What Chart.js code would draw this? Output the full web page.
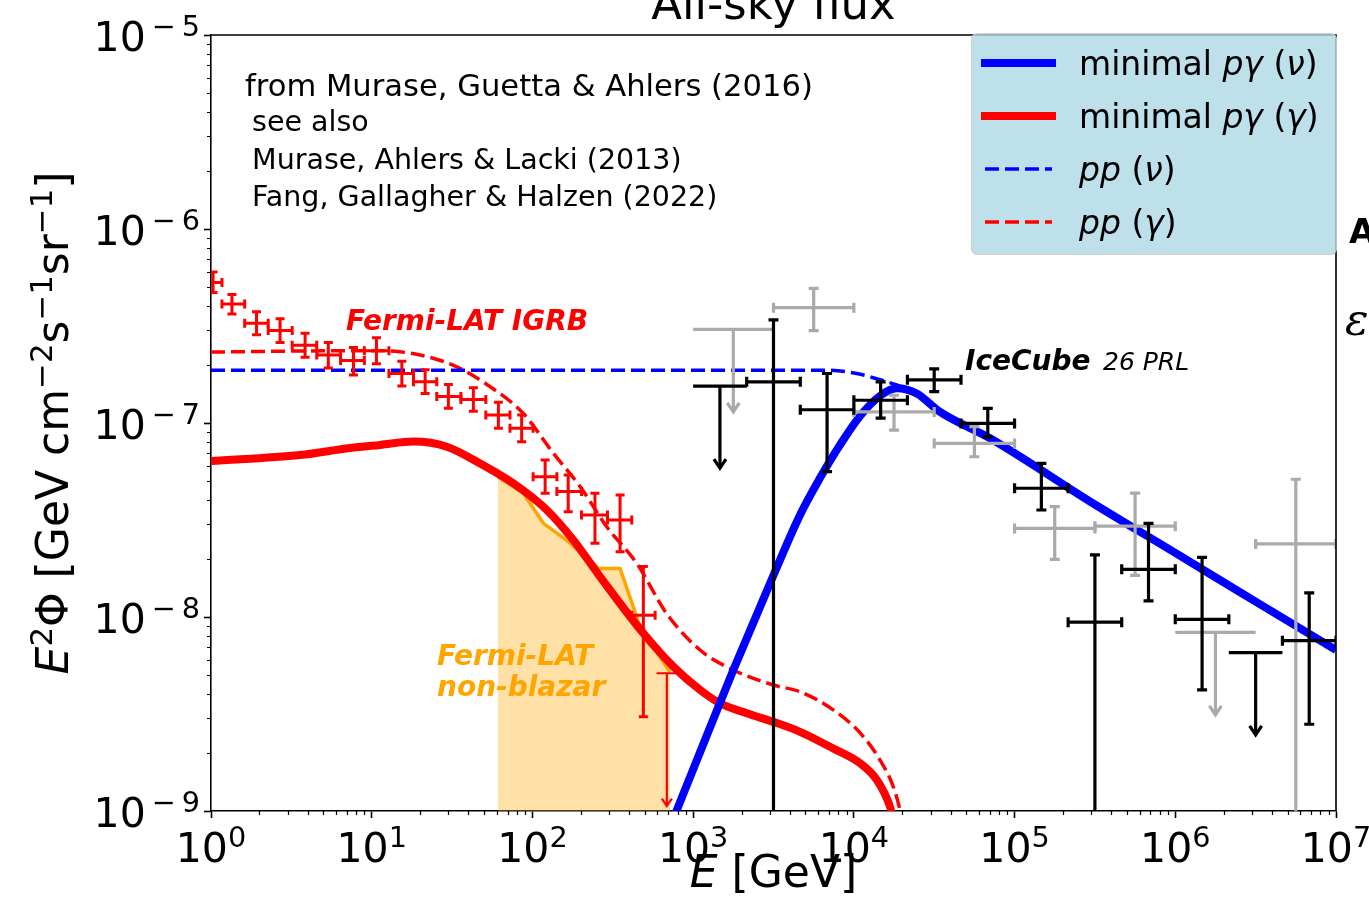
<!DOCTYPE html>
<html>
<head>
<meta charset="utf-8">
<title>All-sky flux</title>
<script src="https://cdn.jsdelivr.net/npm/chart.js@4.4.1/dist/chart.umd.min.js"></script>
<style>
  html, body { margin: 0; padding: 0; background: #fff; }
  #wrap { position: relative; width: 1369px; height: 919px; }
</style>
</head>
<body>
<div id="wrap"><canvas id="c"></canvas></div>
<script>
/* ---------------- datos (E en GeV, E^2 Phi en GeV cm^-2 s^-1 sr^-1) ---------------- */

// ejes: ticks mayores y sus exponentes (se dibujan como 10^n)
const xMajor = [1, 1e1, 1e2, 1e3, 1e4, 1e5, 1e6, 1e7];
const xTickExp = ["0", "1", "2", "3", "4", "5", "6", "7"];
const yMajor = [1e-9, 1e-8, 1e-7, 1e-6, 1e-5];
const yTickExp = ["−9", "−8", "−7", "−6", "−5"];

// minimal p-gamma (nu)
const pgNuE = [631, 791, 1104, 1778, 2871, 4624, 6152, 8204, 10965, 14555, 18493, 24604, 34356, 70307, 316228, 1e6, 3.162e6, 1e7];
const pgNuF = [6.31e-10, 1.01e-9, 2.01e-9, 5.33e-9, 1.36e-8, 3.36e-8, 5.20e-8, 7.71e-8, 1.09e-7, 1.38e-7, 1.51e-7, 1.42e-7, 1.14e-7, 8.34e-8, 3.80e-8, 2.14e-8, 1.20e-8, 6.76e-9];
// minimal p-gamma (gamma)
const pgGaE = [1, 3.58, 7.33, 11.3, 18.2, 29.3, 47.2, 76.0, 123, 180, 264, 490, 753, 1104, 1469, 2153, 3155, 4624, 7447, 10965, 13868, 16788, 18197];
const pgGaF = [6.37e-8, 6.84e-8, 7.43e-8, 7.71e-8, 8.02e-8, 7.55e-8, 6.19e-8, 4.89e-8, 3.56e-8, 2.49e-8, 1.61e-8, 8.24e-9, 5.55e-9, 4.21e-9, 3.59e-9, 3.19e-9, 2.88e-9, 2.56e-9, 2.10e-9, 1.76e-9, 1.45e-9, 1.05e-9, 7.9e-10];
// pp (nu)
const ppNuE = [1, 10, 100, 1000, 3000, 6700, 10423, 14555, 18493, 24604, 34356, 70307, 316228, 1e6, 3.162e6, 1e7];
const ppNuF = [1.87e-7, 1.87e-7, 1.87e-7, 1.87e-7, 1.87e-7, 1.87e-7, 1.80e-7, 1.67e-7, 1.57e-7, 1.42e-7, 1.14e-7, 8.34e-8, 3.80e-8, 2.14e-8, 1.20e-8, 6.76e-9];
// pp (gamma)
const ppGaE = [1, 3.58, 11.3, 20.0, 33.8, 54.5, 87.7, 135, 198, 290, 446, 685, 1104, 1778, 3155, 4624, 7447, 10965, 14555, 17620, 19364, 20417];
const ppGaF = [2.32e-7, 2.35e-7, 2.36e-7, 2.24e-7, 1.95e-7, 1.54e-7, 1.12e-7, 6.98e-8, 4.70e-8, 2.92e-8, 1.89e-8, 1.04e-8, 6.76e-9, 5.33e-9, 4.46e-9, 4.12e-9, 3.32e-9, 2.52e-9, 1.83e-9, 1.33e-9, 1.01e-9, 7.9e-10];
// Fermi-LAT non-blazar (banda naranja)
const nbE = [61.1, 87.7, 117, 163, 257, 351, 468, 718];
const nbF = [5.27e-8, 4.35e-8, 3.04e-8, 2.49e-8, 1.78e-8, 1.78e-8, 8.9e-9, 5.2e-9];

// Fermi-LAT IGRB
const igrbE   = [1.03, 1.35, 1.92, 2.69, 3.85, 5.37, 7.7, 10.7, 15.4, 21.5, 30, 42.9, 61.4, 85.7, 120, 167, 245, 351, 490];
const igrbElo = [0.87, 1.17, 1.62, 2.27, 3.2, 4.55, 6.4, 9.0, 12.8, 18.2, 25.4, 35.9, 51.3, 72.5, 101, 142, 202, 293, 415];
const igrbEhi = [1.17, 1.62, 2.27, 3.2, 4.55, 6.4, 9.0, 12.8, 18.2, 25.4, 35.9, 51.3, 72.5, 101, 142, 202, 293, 415, 580];
const igrbF   = [5.3e-7, 4.1e-7, 3.27e-7, 3.0e-7, 2.52e-7, 2.24e-7, 2.1e-7, 2.36e-7, 1.80e-7, 1.63e-7, 1.37e-7, 1.32e-7, 1.10e-7, 9.4e-8, 5.28e-8, 4.43e-8, 3.36e-8, 3.16e-8, 1.02e-8];
const igrbFlo = [4.7e-7, 3.65e-7, 2.85e-7, 2.6e-7, 2.18e-7, 1.92e-7, 1.77e-7, 2.02e-7, 1.55e-7, 1.42e-7, 1.19e-7, 1.15e-7, 9.4e-8, 8.0e-8, 4.35e-8, 3.49e-8, 2.40e-8, 2.17e-8, 3.06e-9];
const igrbFhi = [6.0e-7, 4.6e-7, 3.75e-7, 3.45e-7, 2.9e-7, 2.6e-7, 2.45e-7, 2.75e-7, 2.08e-7, 1.88e-7, 1.58e-7, 1.52e-7, 1.28e-7, 1.1e-7, 6.44e-8, 5.39e-8, 4.35e-8, 4.25e-8, 1.82e-8];
const igrbUlE = [686], igrbUlElo = [592], igrbUlEhi = [789], igrbUlF = [5.13e-9], igrbUlTip = [1.06e-9];

// IceCube (negro)
const icE   = [3162, 6813, 14680, 31620, 68130, 146800, 316200, 681300, 1468000, 6813000];
const icElo = [2154, 4642, 10000, 21540, 46420, 100000, 215400, 464200, 1000000, 4642000];
const icEhi = [4642, 10000, 21540, 46420, 100000, 215400, 464200, 1000000, 2154000, 10000000];
const icF   = [1.63e-7, 1.17e-7, 1.31e-7, 1.67e-7, 9.95e-8, 4.61e-8, 9.4e-9, 1.76e-8, 9.73e-9, 7.55e-9];
const icFlo = [1e-10, 5.61e-8, 1.06e-7, 1.45e-7, 8.49e-8, 3.56e-8, 1e-10, 1.21e-8, 4.21e-9, 2.80e-9];
const icFhi = [3.40e-7, 1.80e-7, 1.63e-7, 1.90e-7, 1.19e-7, 6.19e-8, 2.09e-8, 3.04e-8, 2.03e-8, 1.33e-8];
const icUlE = [1468, 3162000], icUlElo = [1000, 2154000], icUlEhi = [2154, 4642000];
const icUlF = [1.55e-7, 6.55e-9], icUlTip = [5.86e-8, 2.47e-9];

// IceCube (gris)
const hsE   = [5623, 17780, 56230, 177800, 562300, 5623000];
const hsElo = [3162, 10000, 31620, 100000, 316200, 3162000];
const hsEhi = [10000, 31620, 100000, 316200, 1000000, 10000000];
const hsF   = [3.93e-7, 1.14e-7, 7.85e-8, 2.86e-8, 2.94e-8, 2.38e-8];
const hsFlo = [2.99e-7, 9.2e-8, 6.7e-8, 1.98e-8, 1.64e-8, 1e-10];
const hsFhi = [4.94e-7, 1.39e-7, 9.57e-8, 3.71e-8, 4.35e-8, 5.13e-8];
const hsUlE = [1778, 1778000], hsUlElo = [1000, 1000000], hsUlEhi = [3162, 3162000];
const hsUlF = [3.04e-7, 8.34e-9], hsUlTip = [1.14e-7, 3.13e-9];

/* ---------------- helpers ---------------- */
const FAM = "'DejaVu Sans'";
const BLUE = "#0000ff", RED = "#ff0000", ORANGE = "#ffa500", GRAY = "#aaaaaa";
const pts = (xs, ys) => xs.map((x, i) => ({ x, y: ys[i] }));
const isPow10 = (v) => Math.abs(Math.log10(v) - Math.round(Math.log10(v))) < 1e-6;

function minors(lo, hi) {
  const out = [];
  for (let d = lo; d < hi; d++) for (let k = 2; k <= 9; k++) out.push(k * Math.pow(10, d));
  return out;
}
const xMinor = minors(0, 7);
const yMinor = minors(-9, -5);

function fnt(size, it, b, fam) { return (it ? "italic " : "") + (b ? "bold " : "") + size + "px " + (fam || FAM); }

// texto con partes en cursiva / superíndice (dx = hueco antes de la parte)
function rich(ctx, parts, x, y, size, align) {
  const ws = parts.map((p) => { ctx.font = fnt(p.sup ? size * 0.7 : size, p.it, p.b, p.fam); return ctx.measureText(p.t).width + (p.dx || 0); });
  const w = ws.reduce((a, b) => a + b, 0);
  let cx = align === "center" ? x - w / 2 : align === "right" ? x - w : x;
  parts.forEach((p, i) => {
    ctx.font = fnt(p.sup ? size * 0.7 : size, p.it, p.b, p.fam);
    ctx.fillText(p.t, cx + (p.dx || 0), p.sup ? y - size * 0.37 : y);
    cx += ws[i];
  });
}

/* ---------------- barras de error, límites, textos, leyenda ---------------- */
function errBars(ctx, xs, ys, E, Elo, Ehi, F, Flo, Fhi, color, lw, cap) {
  ctx.strokeStyle = color; ctx.lineWidth = lw; ctx.lineCap = "butt";
  E.forEach((e, i) => {
    const px = xs.getPixelForValue(e), py = ys.getPixelForValue(F[i]);
    const x0 = xs.getPixelForValue(Elo[i]), x1 = xs.getPixelForValue(Ehi[i]);
    const y0 = ys.getPixelForValue(Flo[i]), y1 = ys.getPixelForValue(Fhi[i]);
    ctx.beginPath();
    ctx.moveTo(x0, py); ctx.lineTo(x1, py);
    ctx.moveTo(x0, py - cap); ctx.lineTo(x0, py + cap);
    ctx.moveTo(x1, py - cap); ctx.lineTo(x1, py + cap);
    ctx.moveTo(px, y0); ctx.lineTo(px, y1);
    ctx.moveTo(px - cap, y0); ctx.lineTo(px + cap, y0);
    ctx.moveTo(px - cap, y1); ctx.lineTo(px + cap, y1);
    ctx.stroke();
  });
}

function upperLimits(ctx, xs, ys, E, Elo, Ehi, F, tip, color, lw, head) {
  ctx.strokeStyle = color; ctx.lineWidth = lw; ctx.lineCap = "butt";
  E.forEach((e, i) => {
    const px = xs.getPixelForValue(e), py = ys.getPixelForValue(F[i]);
    const ty = ys.getPixelForValue(tip[i]);
    ctx.beginPath();
    ctx.moveTo(xs.getPixelForValue(Elo[i]), py); ctx.lineTo(xs.getPixelForValue(Ehi[i]), py);
    ctx.moveTo(px, py); ctx.lineTo(px, ty);
    ctx.stroke();
    ctx.beginPath();
    ctx.moveTo(px - head, ty - head * 1.5); ctx.lineTo(px, ty); ctx.lineTo(px + head, ty - head * 1.5);
    ctx.stroke();
  });
}

const overlay = {
  id: "overlay",
  afterDatasetsDraw(chart) {
    const { ctx, chartArea: a, scales: { x, y } } = chart;
    ctx.save();
    ctx.beginPath(); ctx.rect(a.left, a.top, a.right - a.left, a.bottom - a.top); ctx.clip();
    errBars(ctx, x, y, hsE, hsElo, hsEhi, hsF, hsFlo, hsFhi, GRAY, 3.2, 5);
    upperLimits(ctx, x, y, hsUlE, hsUlElo, hsUlEhi, hsUlF, hsUlTip, GRAY, 3.2, 6);
    errBars(ctx, x, y, icE, icElo, icEhi, icF, icFlo, icFhi, "#000", 3.2, 5);
    upperLimits(ctx, x, y, icUlE, icUlElo, icUlEhi, icUlF, icUlTip, "#000", 3.2, 6);
    errBars(ctx, x, y, igrbE, igrbElo, igrbEhi, igrbF, igrbFlo, igrbFhi, RED, 3, 4.5);
    upperLimits(ctx, x, y, igrbUlE, igrbUlElo, igrbUlEhi, igrbUlF, igrbUlTip, RED, 2.2, 5);
    ctx.restore();
  },
  afterDraw(chart) {
    const { ctx, chartArea: a, scales: { x, y } } = chart;
    ctx.save();
    // ticks menores (más cortos que los mayores)
    ctx.strokeStyle = "#000"; ctx.lineWidth = 1.2;
    ctx.beginPath();
    xMinor.forEach((v) => { const p = Math.round(x.getPixelForValue(v)) + 0.5; ctx.moveTo(p, a.bottom); ctx.lineTo(p, a.bottom + 4); });
    yMinor.forEach((v) => { const p = Math.round(y.getPixelForValue(v)) + 0.5; ctx.moveTo(a.left, p); ctx.lineTo(a.left - 4, p); });
    ctx.stroke();
    // marco superior y derecho
    ctx.lineWidth = 1.6;
    ctx.beginPath();
    ctx.moveTo(a.left, a.top); ctx.lineTo(a.right, a.top); ctx.lineTo(a.right, a.bottom);
    ctx.stroke();

    ctx.fillStyle = "#000"; ctx.textBaseline = "alphabetic"; ctx.textAlign = "left";
    // etiquetas de ticks: 10^n en la posición de la escala
    xMajor.forEach((v, i) => rich(ctx, [{ t: "10" }, { t: xTickExp[i], sup: 1 }], x.getPixelForValue(v), 862, 41, "center"));
    yMajor.forEach((v, i) => {
      const ex = yTickExp[i];
      rich(ctx, [{ t: "10" }, { t: ex.slice(0, 1), sup: 1, dx: 6 }, { t: ex.slice(1), sup: 1, dx: 6 }],
        a.left - 11, y.getPixelForValue(v) + 16, 41, "right");
    });

    // título (cortado arriba)
    ctx.font = fnt(45); ctx.textAlign = "center";
    ctx.fillText("All-sky flux", (a.left + a.right) / 2, 19);
    ctx.textAlign = "left";
    // títulos de ejes
    rich(ctx, [{ t: "E", it: 1 }, { t: " [GeV]" }], (a.left + a.right) / 2, 887, 44, "center");
    ctx.save();
    ctx.translate(68, (a.top + a.bottom) / 2); ctx.rotate(-Math.PI / 2);
    rich(ctx, [{ t: "E", it: 1 }, { t: "2", sup: 1 }, { t: "Φ" }, { t: " [GeV cm" }, { t: "−2", sup: 1 },
      { t: "s" }, { t: "−1", sup: 1 }, { t: "sr" }, { t: "−1", sup: 1 }, { t: "]" }], 0, 0, 44, "center");
    ctx.restore();

    // referencias
    ctx.font = fnt(30.6);
    ctx.fillText("from Murase, Guetta & Ahlers (2016)", 245, 96);
    ctx.font = fnt(28.5);
    [" see also", " Murase, Ahlers & Lacki (2013)", " Fang, Gallagher & Halzen (2022)"]
      .forEach((s, i) => ctx.fillText(s, 243, 131 + i * 37.5));

    // etiquetas de datos
    ctx.fillStyle = RED; ctx.font = fnt(28, 1, 1);
    ctx.fillText("Fermi-LAT IGRB", 346, 330);
    ctx.fillStyle = "#000";
    ctx.fillText("IceCube", 965, 370);
    ctx.font = fnt(25, 1); ctx.fillText("26 PRL", 1103, 370);
    ctx.fillStyle = ORANGE; ctx.font = fnt(28, 1, 1);
    ctx.fillText("Fermi-LAT", 437, 665);
    ctx.fillText("non-blazar", 437, 696);

    // texto cortado en el borde derecho
    ctx.fillStyle = "#000";
    ctx.font = fnt(34, 0, 1); ctx.fillText("A", 1349, 243);
    ctx.font = fnt(44, 1, 0, "'DejaVu Serif'"); ctx.fillText("ε", 1345, 335);

    // leyenda
    ctx.beginPath(); ctx.roundRect(971.5, 33.5, 365, 221, 6);
    ctx.fillStyle = "rgba(173,216,230,0.8)"; ctx.fill();
    ctx.strokeStyle = "rgba(204,204,204,0.9)"; ctx.lineWidth = 1.2; ctx.stroke();
    const rows = [
      { ds: 0, parts: [{ t: "minimal " }, { t: "pγ", it: 1 }, { t: " (" }, { t: "ν", it: 1 }, { t: ")" }] },
      { ds: 1, parts: [{ t: "minimal " }, { t: "pγ", it: 1 }, { t: " (" }, { t: "γ", it: 1 }, { t: ")" }] },
      { ds: 2, parts: [{ t: "pp", it: 1 }, { t: " (" }, { t: "ν", it: 1 }, { t: ")" }] },
      { ds: 3, parts: [{ t: "pp", it: 1 }, { t: " (" }, { t: "γ", it: 1 }, { t: ")" }] },
    ];
    rows.forEach((r, i) => {
      const d = chart.data.datasets[r.ds], ry = 63 + i * 53;
      ctx.strokeStyle = d.borderColor; ctx.lineWidth = d.borderWidth;
      ctx.setLineDash(d.borderDash || []); ctx.lineCap = d.borderDash ? "butt" : "square";
      ctx.beginPath(); ctx.moveTo(985, ry); ctx.lineTo(1052, ry); ctx.stroke();
      ctx.setLineDash([]);
      ctx.fillStyle = "#000";
      rich(ctx, r.parts, 1079, ry + 12, 33, "left");
    });
    ctx.restore();
  },
};

/* ---------------- gráfica ---------------- */
const line = (label, xs, ys, color, width, dash, order) => ({
  label, data: pts(xs, ys), showLine: true, borderColor: color, borderWidth: width,
  borderDash: dash, pointRadius: 0, cubicInterpolationMode: "monotone", fill: false, clip: 0, order,
});
const tickGrid = {
  display: true, drawOnChartArea: false, drawTicks: true, tickLength: 7, tickWidth: 1.6,
  tickColor: (c) => (c.tick && isPow10(c.tick.value) ? "#000" : "rgba(0,0,0,0)"),
};

new Chart(document.getElementById("c"), {
  type: "scatter",
  data: {
    datasets: [
      line("minimal pγ (ν)", pgNuE, pgNuF, BLUE, 8, undefined, 2),
      line("minimal pγ (γ)", pgGaE, pgGaF, RED, 8, undefined, 3),
      line("pp (ν)", ppNuE, ppNuF, BLUE, 3.5, [14, 6], 4),
      line("pp (γ)", ppGaE, ppGaF, RED, 3.5, [14, 6], 5),
      { label: "Fermi-LAT non-blazar", data: pts(nbE, nbF), showLine: true, borderColor: ORANGE, borderWidth: 3.5,
        backgroundColor: "rgba(255,165,0,0.35)", fill: "start", pointRadius: 0, tension: 0, clip: 0, order: 6 },
      { label: "Fermi-LAT IGRB", data: pts(igrbE, igrbF), pointRadius: 0, showLine: false, order: 1 },
      { label: "IceCube", data: pts(icE, icF), pointRadius: 0, showLine: false, order: 1 },
      { label: "IceCube (gris)", data: pts(hsE, hsF), pointRadius: 0, showLine: false, order: 1 },
    ],
  },
  options: {
    responsive: true, maintainAspectRatio: false, animation: false,
    layout: { padding: { top: 35, right: 33, left: 0, bottom: 0 } },
    plugins: { legend: { display: false }, tooltip: { enabled: false }, title: { display: false } },
    scales: {
      x: {
        type: "logarithmic", min: 1, max: 1e7, position: "bottom",
        afterBuildTicks: (s) => { s.ticks = xMajor.concat(xMinor).sort((a, b) => a - b).map((value) => ({ value })); },
        afterFit: (s) => { s.height = 108; s.paddingLeft = 0; s.paddingRight = 0; },
        ticks: { display: false, autoSkip: false },
        grid: tickGrid,
        border: { display: true, color: "#000", width: 1.6 },
      },
      y: {
        type: "logarithmic", min: 1e-9, max: 1e-5, position: "left",
        afterBuildTicks: (s) => { s.ticks = yMajor.concat(yMinor).sort((a, b) => a - b).map((value) => ({ value })); },
        afterFit: (s) => { s.width = 211; s.paddingTop = 0; s.paddingBottom = 0; },
        ticks: { display: false, autoSkip: false },
        grid: tickGrid,
        border: { display: true, color: "#000", width: 1.6 },
      },
    },
  },
  plugins: [overlay],
});
</script>
</body>
</html>
